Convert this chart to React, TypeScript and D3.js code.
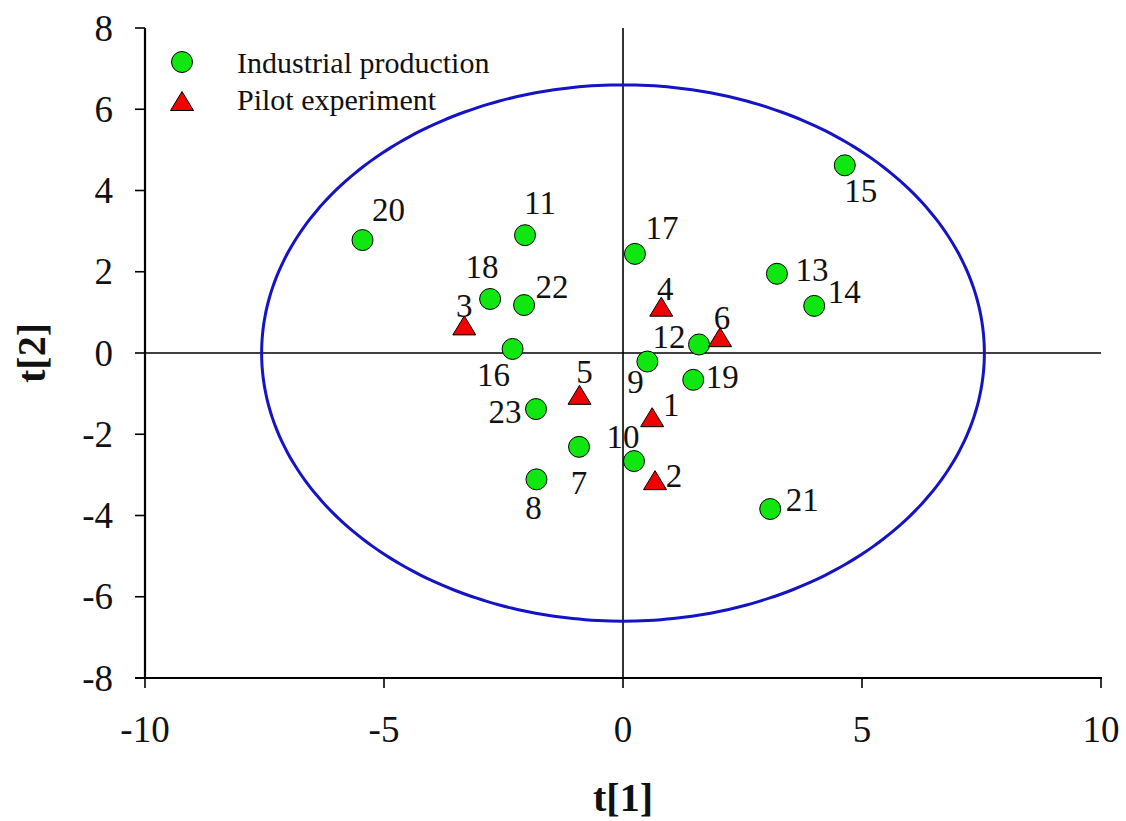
import React from "react";
import * as d3 from "d3";

// Score plot t[1] vs t[2]
const industrialIds = [7, 8, 9, 10, 11, 12, 13, 14, 15, 16, 17, 18, 19, 20, 21, 22, 23];
const industrialT1 = [-0.92, -1.81, 0.51, 0.23, -2.05, 1.59, 3.22, 4.0, 4.64, -2.31, 0.25, -2.78, 1.47, -5.45, 3.08, -2.07, -1.82];
const industrialT2 = [-2.31, -3.11, -0.21, -2.66, 2.9, 0.21, 1.95, 1.16, 4.62, 0.1, 2.44, 1.33, -0.66, 2.78, -3.84, 1.18, -1.38];

const pilotIds = [1, 2, 3, 4, 5, 6];
const pilotT1 = [0.61, 0.67, -3.32, 0.8, -0.91, 2.03];
const pilotT2 = [-1.58, -3.13, 0.68, 1.14, -1.03, 0.39];

const xTicks = [-10, -5, 0, 5, 10];
const yTicks = [-8, -6, -4, -2, 0, 2, 4, 6, 8];

// Hotelling T2 ellipse semi-axes
const ellipseT1 = 7.56;
const ellipseT2 = 6.6;

const seriesNames = ["Industrial production", "Pilot experiment"];

// label placement around each marker (px, relative to marker centre)
const labelOffset: Record<number, [number, number]> = {
  1: [19, -12], 2: [19, -4], 3: [0, -20], 4: [4, -18], 5: [5, -23], 6: [2, -19],
  7: [0, 36], 8: [-3, 29], 9: [-12, 20], 10: [-11, -24], 11: [15, -32], 12: [-30, -8],
  13: [35, -4], 14: [30, -14], 15: [16, 26], 16: [-19, 26], 17: [27, -26], 18: [-8, -32],
  19: [29, -3], 20: [26, -30], 21: [32, -9], 22: [28, -18], 23: [-31, 3],
};

const W = 1126;
const H = 821;
const FONT = "Liberation Serif";
const GREEN = "#10e610";
const RED = "#f00000";
const BLUE = "#1414c4";

const x = d3.scaleLinear().domain([-10, 10]).range([145, 1101]);
const y = d3.scaleLinear().domain([-8, 8]).range([678, 28]);

const triPath = (cx: number, cy: number, w = 23, h = 19) =>
  `M${cx - w / 2},${cy + h / 2}L${cx + w / 2},${cy + h / 2}L${cx},${cy - h / 2}Z`;

const LABEL_FS = 33;

function PointLabel({ id, px, py }: { id: number; px: number; py: number }) {
  const [dx, dy] = labelOffset[id] || [15, -15];
  return (
    <text x={px + dx} y={py + dy + LABEL_FS * 0.338} textAnchor="middle" fontSize={LABEL_FS} fill="#111">
      {id}
    </text>
  );
}

export default function App() {
  const ellipsePts = d3.range(0, 360, 2).map((a) => {
    const r = (a * Math.PI) / 180;
    return [x(ellipseT1 * Math.cos(r)), y(ellipseT2 * Math.sin(r))] as [number, number];
  });
  const ellipseLine = d3.line().curve(d3.curveCardinalClosed)(ellipsePts) || "";

  const industrial = industrialIds.map((id, i) => ({ id, px: x(industrialT1[i]), py: y(industrialT2[i]) }));
  const pilot = pilotIds.map((id, i) => ({ id, px: x(pilotT1[i]), py: y(pilotT2[i]) }));

  return (
    <div style={{ position: "absolute", left: 0, top: 0 }}>
      <svg width={W} height={H} style={{ display: "block", background: "#fff", fontFamily: FONT }}>
        {/* zero lines */}
        <line x1={x(-10)} x2={x(10)} y1={y(0)} y2={y(0)} stroke="#000" strokeWidth={1.6} />
        <line x1={x(0)} x2={x(0)} y1={y(-8)} y2={y(8)} stroke="#000" strokeWidth={1.6} />

        {/* axes */}
        <line x1={x(-10)} x2={x(-10)} y1={y(-8) + 1} y2={y(8)} stroke="#000" strokeWidth={2.2} />
        <line x1={x(-10) - 10} x2={x(10) + 1} y1={y(-8)} y2={y(-8)} stroke="#000" strokeWidth={2.2} />
        {yTicks.map((t) => (
          <g key={"y" + t}>
            <line x1={x(-10) - 10} x2={x(-10)} y1={y(t)} y2={y(t)} stroke="#000" strokeWidth={1.6} />
            <text x={113} y={y(t) + 12.5} textAnchor="end" fontSize={37} fill="#111">
              {t}
            </text>
          </g>
        ))}
        {xTicks.map((t) => (
          <g key={"x" + t}>
            <line x1={x(t)} x2={x(t)} y1={y(-8)} y2={y(-8) + 10} stroke="#000" strokeWidth={1.6} />
            <text x={x(t)} y={742} textAnchor="middle" fontSize={37} fill="#111">
              {t}
            </text>
          </g>
        ))}

        {/* axis titles */}
        <text x={623} y={811} textAnchor="middle" fontSize={40} fontWeight="bold" fill="#111">
          t[1]
        </text>
        <text transform={`translate(45,353) rotate(-90)`} textAnchor="middle" fontSize={40} fontWeight="bold" fill="#111">
          t[2]
        </text>

        {/* confidence ellipse */}
        <path d={ellipseLine} fill="none" stroke={BLUE} strokeWidth={3} />

        {/* markers */}
        {industrial.map((p) => (
          <circle key={"c" + p.id} cx={p.px} cy={p.py} r={10.5} fill={GREEN} stroke="#000" strokeWidth={1} />
        ))}
        {pilot.map((p) => (
          <path key={"t" + p.id} d={triPath(p.px, p.py)} fill={RED} stroke="#000" strokeWidth={1} />
        ))}
        {industrial.map((p) => (
          <PointLabel key={"lc" + p.id} {...p} />
        ))}
        {pilot.map((p) => (
          <PointLabel key={"lt" + p.id} {...p} />
        ))}

        {/* legend */}
        <circle cx={182} cy={62} r={10.5} fill={GREEN} stroke="#000" strokeWidth={1} />
        <path d={triPath(182, 101)} fill={RED} stroke="#000" strokeWidth={1} />
        <text x={237} y={73} fontSize={30} fill="#111">
          {seriesNames[0]}
        </text>
        <text x={237} y={110} fontSize={30} fill="#111">
          {seriesNames[1]}
        </text>
      </svg>
    </div>
  );
}
